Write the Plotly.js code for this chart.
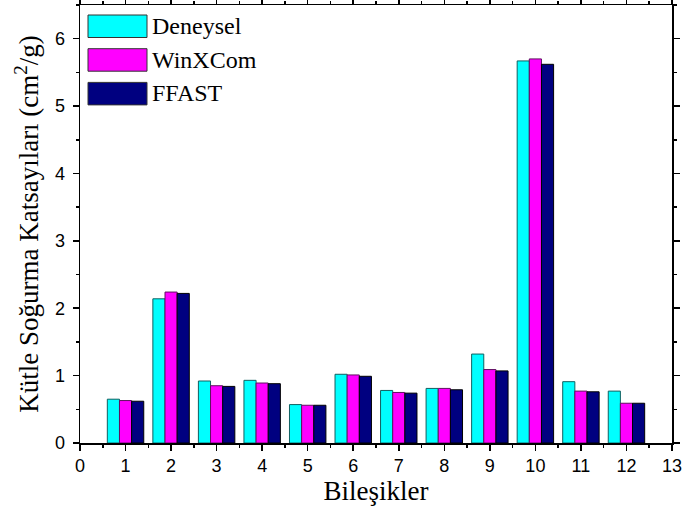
<!DOCTYPE html>
<html>
<head>
<meta charset="utf-8">
<script src="https://cdn.plot.ly/plotly-3.0.1.min.js"></script>
<style>html,body{margin:0;padding:0;background:#fff;}#chart{width:683px;height:514px;}</style>
</head>
<body>
<div id="chart"></div>
<script>
const categories = [1, 2, 3, 4, 5, 6, 7, 8, 9, 10, 11, 12];
const seriesNames = ["Deneysel", "WinXCom", "FFAST"];
const deneysel = [0.65, 2.14, 0.92, 0.93, 0.57, 1.02, 0.78, 0.81, 1.32, 5.67, 0.91, 0.77];
const winxcom  = [0.63, 2.24, 0.85, 0.89, 0.56, 1.01, 0.75, 0.81, 1.09, 5.70, 0.77, 0.59];
const ffast    = [0.62, 2.22, 0.84, 0.88, 0.56, 0.99, 0.74, 0.79, 1.07, 5.62, 0.76, 0.59];
const colors = ["#00FFFF", "#FF00FF", "#000080"];
const outline = ["#106060", "#601060", "#000000"];
const xTicks = [0,1,2,3,4,5,6,7,8,9,10,11,12,13];
const yTicks = [0,1,2,3,4,5,6];

const values = [deneysel, winxcom, ffast];
const traces = values.map((v, i) => ({
  type: "bar",
  x: categories,
  y: v,
  name: seriesNames[i],
  marker: {color: colors[i], line: {color: outline[i], width: 1}},
  showlegend: false
}));

const serif = "Liberation Serif, Times New Roman, serif";
const sans = "Liberation Sans, Arial, sans-serif";

// custom legend with large swatches
const shapes = [];
const annotations = [];
seriesNames.forEach((n, i) => {
  const top = 15 + i * 33.7;
  shapes.push({type: "rect", xref: "paper", yref: "paper",
    x0: (88 - 80) / 592, x1: (147 - 80) / 592,
    y0: 1 - (top + 22.5 - 5) / 438, y1: 1 - (top - 5) / 438,
    fillcolor: colors[i], line: {color: "#333", width: 1}});
  annotations.push({xref: "paper", yref: "paper",
    x: (150 - 80) / 592, y: 1 - (top + 11 - 5) / 438,
    xanchor: "left", yanchor: "middle", showarrow: false, text: n,
    font: {family: serif, size: 24, color: "#000"}});
});

const axisCommon = {
  showline: true, linecolor: "#000", linewidth: 1.5, mirror: "ticks",
  ticks: "outside", ticklen: 6, tickwidth: 1.5, tickcolor: "#000",
  showgrid: false, zeroline: false,
  tickfont: {family: sans, size: 18, color: "#000"}
};

const layout = {
  width: 683, height: 514,
  margin: {l: 80, r: 11, t: 5, b: 71},
  paper_bgcolor: "#fff", plot_bgcolor: "#fff",
  barmode: "group", bargap: 0.2, bargroupgap: 0,
  xaxis: Object.assign({}, axisCommon, {
    range: [0, 13], tickvals: xTicks, ticktext: xTicks.map(String),
    minor: {dtick: 0.5, tick0: 0, ticks: "outside", ticklen: 3, tickcolor: "#000", tickwidth: 1.5},
    title: {text: "Bileşikler", standoff: 4,
      font: {family: serif, size: 27, color: "#000"}}
  }),
  yaxis: Object.assign({}, axisCommon, {
    range: [0, 6.5], tickvals: yTicks, ticktext: yTicks.map(String),
    ticklabelstandoff: 4,
    minor: {dtick: 0.5, tick0: 0, ticks: "outside", ticklen: 3, tickcolor: "#000", tickwidth: 1.5},
    title: {text: "Kütle Soğurma Katsayıları (cm<sup>2</sup>/g)", standoff: 8,
      font: {family: serif, size: 27, color: "#000"}}
  }),
  shapes: shapes,
  annotations: annotations
};

Plotly.newPlot("chart", traces, layout, {staticPlot: true, displayModeBar: false});
</script>
</body>
</html>
